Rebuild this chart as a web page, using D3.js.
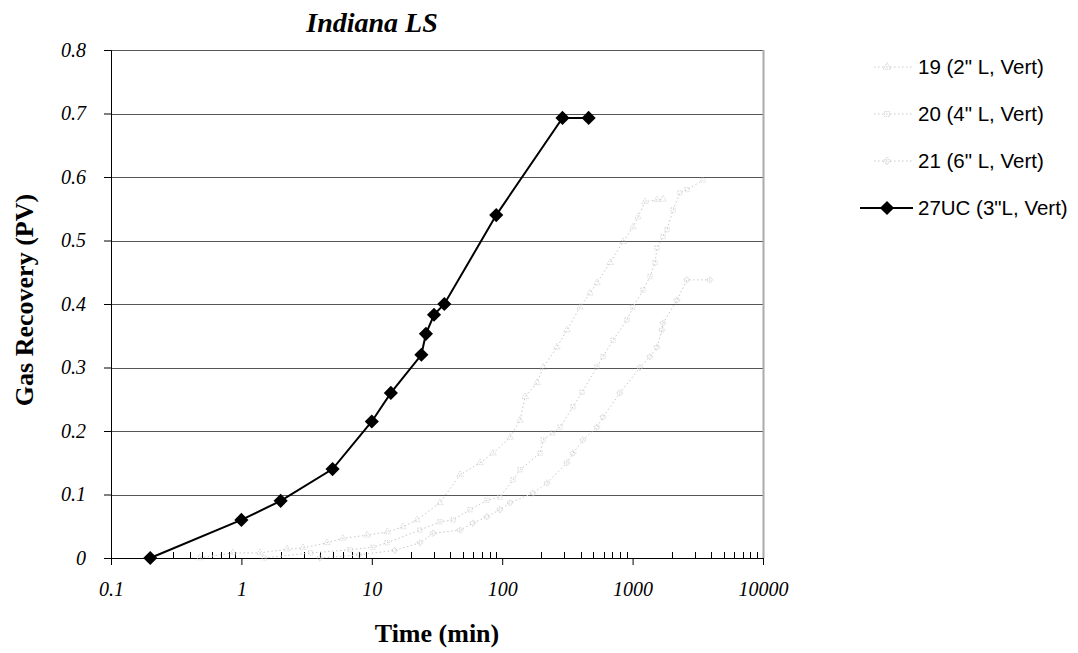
<!DOCTYPE html>
<html>
<head>
<meta charset="utf-8">
<script src="https://cdn.jsdelivr.net/npm/d3@7"></script>
<style>
body{
	margin:0;
	background-color: white;
}
svg text{ fill:#000; }
.serif{ font-family:"Liberation Serif","DejaVu Serif",serif; }
.sans{ font-family:"Liberation Sans",Arial,sans-serif; }
</style>
</head>
<body>
<div id="chart"></div>
<script>
// data
var names = ['19 (2" L, Vert)', '20 (4" L, Vert)', '21 (6" L, Vert)', '27UC (3"L, Vert)'];

var t19 = [0.48,0.86,1.39,2.24,2.97,4.53,6.0,9.2,13.1,17.3,22.2,33.3,47.5,67.6,85,115,137,150,185,206,263,314,395,471,533,671,844,1006,1099,1244,1538,1710];
var g19 = [0,0.008,0.008,0.014,0.016,0.024,0.031,0.036,0.041,0.049,0.06,0.087,0.131,0.15,0.165,0.19,0.217,0.254,0.276,0.30,0.332,0.359,0.395,0.417,0.433,0.465,0.498,0.521,0.537,0.561,0.564,0.565];

var t20 = [1.5,3.4,6.8,10.2,13.1,23.4,33.3,42,56.6,76.4,96,121,137,195,206,245,278,349,409,533,593,708,906,1006,1202,1360,1486,1538,1710,1836,2042,2307,2612,3465];
var g20 = [0,0.008,0.013,0.017,0.024,0.044,0.057,0.06,0.076,0.091,0.096,0.123,0.139,0.165,0.186,0.197,0.206,0.238,0.261,0.301,0.317,0.343,0.375,0.395,0.422,0.443,0.465,0.488,0.506,0.517,0.548,0.575,0.58,0.595];

var t21 = [4,8,15,23.4,29.5,47.5,59.7,76.4,96,115,172,221,314,349,417,533,593,800,1140,1360,1538,1679,1710,2188,2612,3917];
var g21 = [0,0.005,0.012,0.024,0.039,0.044,0.055,0.065,0.076,0.087,0.102,0.118,0.15,0.165,0.186,0.206,0.222,0.26,0.30,0.317,0.332,0.359,0.37,0.406,0.438,0.438];

var t27 = [0.2,1,2,5,10,14,24,26,30,36,90,290,460];
var g27 = [0,0.06,0.09,0.14,0.215,0.26,0.32,0.353,0.383,0.4,0.54,0.693,0.693];

var xTicks = [0.1,1,10,100,1000,10000];
var yTicks = [0,0.1,0.2,0.3,0.4,0.5,0.6,0.7,0.8];

var W = 1078, H = 653;
var pLeft = 111, pRight = 763, pTop = 50, pBottom = 558;

var svg = d3.select('#chart').append('svg')
	.attr('width',W)
	.attr('height',H);

var x = d3.scaleLog().domain([0.1,10000]).range([pLeft,pRight]);
var y = d3.scaleLinear().domain([0,0.8]).range([pBottom,pTop]);

// gridlines
svg.append('g').selectAll('line').data(yTicks.slice(1)).enter().append('line')
	.attr('x1',pLeft).attr('x2',pRight)
	.attr('y1',function(d){ return Math.round(y(d))+0.5; })
	.attr('y2',function(d){ return Math.round(y(d))+0.5; })
	.attr('stroke','#555')
	.attr('stroke-width',1);

// right border of plot
svg.append('line')
	.attr('x1',pRight+0.5).attr('x2',pRight+0.5)
	.attr('y1',pTop).attr('y2',pBottom)
	.attr('stroke','#aaa').attr('stroke-width',2);

// y axis
var yAxis = d3.axisLeft(y).tickValues(yTicks).tickSize(7).tickFormat(function(d){ return d===0 ? '0' : d3.format('.1f')(d); });
var gy = svg.append('g').attr('transform','translate('+pLeft+',0)').call(yAxis);
gy.select('.domain').attr('stroke','#000');
gy.selectAll('.tick line').attr('stroke','#000');
gy.selectAll('.tick text')
	.attr('class','serif')
	.attr('x',-25)
	.style('font-size','20px')
	.style('font-style','italic');

// x axis, major ticks down, minor ticks up
var xAxis = d3.axisBottom(x).tickValues(xTicks).tickSize(7).tickFormat(function(d){ return String(d); });
var gx = svg.append('g').attr('transform','translate(0,'+pBottom+')').call(xAxis);
gx.select('.domain').attr('stroke','#000');
gx.selectAll('.tick line').attr('stroke','#000');
gx.selectAll('.tick text')
	.attr('class','serif')
	.attr('y',24)
	.style('font-size','20px')
	.style('font-style','italic');

var minor = [];
for(var k=-1;k<4;k++){
	for(var m=2;m<10;m++){
		minor.push(m*Math.pow(10,k));
	}
}
svg.append('g').selectAll('line').data(minor).enter().append('line')
	.attr('x1',function(d){ return Math.round(x(d))+0.5; })
	.attr('x2',function(d){ return Math.round(x(d))+0.5; })
	.attr('y1',pBottom).attr('y2',pBottom-6)
	.attr('stroke','#000');

// faint series
var faint = '#c8c8c8';
var line = d3.line().x(function(d){ return x(d[0]); }).y(function(d){ return y(d[1]); });
var faintSets = [
	{t:t19, g:g19, sym:d3.symbolTriangle},
	{t:t20, g:g20, sym:d3.symbolSquare},
	{t:t21, g:g21, sym:d3.symbolCross}
];
faintSets.forEach(function(s){
	var pts = d3.zip(s.t, s.g);
	svg.append('path').datum(pts)
		.attr('d',line)
		.attr('fill','none')
		.attr('stroke',faint)
		.attr('stroke-width',1)
		.attr('stroke-dasharray','1.5,2.5');
	svg.append('g').selectAll('path').data(pts).enter().append('path')
		.attr('transform',function(d){ return 'translate('+x(d[0])+','+y(d[1])+')'; })
		.attr('d',d3.symbol().type(s.sym).size(18))
		.attr('fill','none')
		.attr('stroke',faint)
		.attr('stroke-width',0.8)
		.attr('stroke-dasharray','1,1');
});

// 27UC, diamonds drawn as squares turned 45 degrees
var diamond = d3.symbol().type(d3.symbolSquare).size(100);
var pts27 = d3.zip(t27, g27);
svg.append('path').datum(pts27)
	.attr('d',line)
	.attr('fill','none')
	.attr('stroke','#000')
	.attr('stroke-width',2);
svg.append('g').selectAll('path').data(pts27).enter().append('path')
	.attr('transform',function(d){ return 'translate('+x(d[0])+','+y(d[1])+') rotate(45)'; })
	.attr('d',diamond)
	.attr('fill','#000');

// title and axis labels
svg.append('text').attr('class','serif')
	.attr('x',372).attr('y',32)
	.attr('text-anchor','middle')
	.style('font-size','28px').style('font-weight','bold').style('font-style','italic')
	.text('Indiana LS');

svg.append('text').attr('class','serif')
	.attr('x',437).attr('y',642)
	.attr('text-anchor','middle')
	.style('font-size','26px').style('font-weight','bold')
	.text('Time (min)');

svg.append('text').attr('class','serif')
	.attr('transform','translate(33,300) rotate(-90)')
	.attr('text-anchor','middle')
	.style('font-size','26px').style('font-weight','bold')
	.text('Gas Recovery (PV)');

// legend
var leg = svg.append('g').attr('transform','translate(860,0)');
var rowsY = [74,121,168,215];
var syms = [d3.symbolTriangle, d3.symbolSquare, d3.symbolCross, d3.symbolSquare];
names.forEach(function(n,i){
	var ly = rowsY[i];
	var dark = i===3;
	leg.append('line')
		.attr('x1',dark?0:14).attr('x2',53)
		.attr('y1',ly-7).attr('y2',ly-7)
		.attr('stroke',dark?'#000':faint)
		.attr('stroke-width',dark?2:1)
		.attr('stroke-dasharray',dark?null:'1.5,2.5');
	leg.append('path')
		.attr('transform','translate(27,'+(ly-7)+')'+(dark?' rotate(45)':''))
		.attr('d',d3.symbol().type(syms[i]).size(dark?100:24))
		.attr('fill',dark?'#000':'none')
		.attr('stroke',dark?'none':faint)
		.attr('stroke-dasharray',dark?null:'1,1');
	leg.append('text').attr('class','sans')
		.attr('x',58).attr('y',ly)
		.style('font-size','20.5px')
		.text(n);
});
</script>
</body>
</html>
